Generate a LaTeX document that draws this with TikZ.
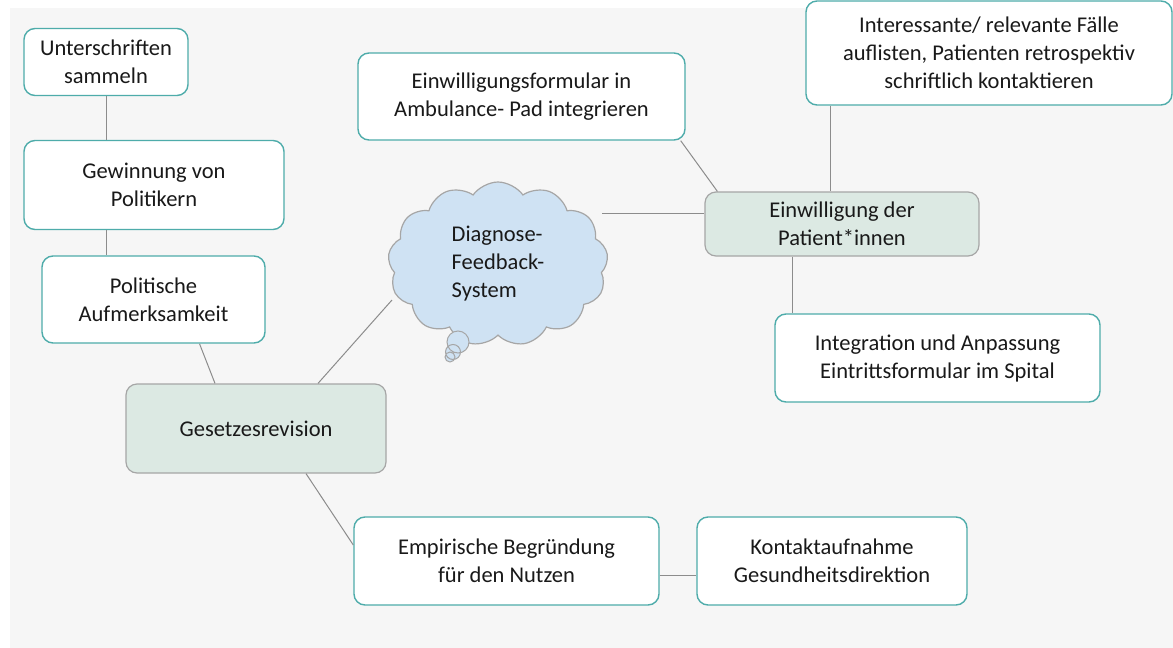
\documentclass[tikz,border=0pt]{standalone}
\usepackage{fontspec}
\setmainfont{Carlito}
\usetikzlibrary{positioning,shapes.symbols}
\definecolor{bggray}{RGB}{246,246,246}
\definecolor{tealline}{RGB}{78,172,170}
\definecolor{greenfill}{RGB}{220,233,227}
\definecolor{linegray}{RGB}{140,140,140}
\definecolor{cloudfill}{RGB}{207,226,243}

\begin{document}
\begin{tikzpicture}[x=1pt,y=-1pt,font=\fontsize{22.5}{28}\selectfont,text=black!90,
box/.style={draw=tealline,line width=1.4pt,rounded corners=11pt,fill=white,align=center,inner sep=0pt},
hub/.style={draw=black!35,line width=1.2pt,rounded corners=11pt,fill=greenfill,align=center,inner sep=0pt},
con/.style={draw=linegray,line width=1pt}]
\useasboundingbox (0,0) rectangle (1173,648);
\fill[bggray] (10,8) rectangle (1173,648);
% left column
\node[box,minimum width=164pt,minimum height=67pt] (unter) at (106,62) {Unterschriften\\sammeln};
\node[box,minimum width=260pt,minimum height=89pt] (gewinn) at (154,185) {Gewinnung von\\Politikern};
\node[box,minimum width=223pt,minimum height=87pt] (polit) at (153.5,299.5) {Politische\\Aufmerksamkeit};
\node[hub,minimum width=260pt,minimum height=89pt] (gesetz) at (256,428.5) {Gesetzesrevision};
% cloud in the middle
\node[cloud,cloud puffs=13,cloud puff arc=110,aspect=1.3,draw=black!35,line width=1.2pt,fill=cloudfill,
  minimum width=220pt,minimum height=164pt,align=left,inner sep=0pt] (cloud) at (498,264) {Diagnose-\\Feedback-\\System};
\draw[draw=black!35,line width=1pt,fill=cloudfill] (458,342) circle (11pt) (453,352) circle (7.5pt) (450,357) circle (5pt);
% right side
\node[box,minimum width=327pt,minimum height=87pt] (form) at (521.5,96.5) {Einwilligungsformular in\\Ambulance- Pad integrieren};
\node[box,minimum width=366pt,minimum height=104pt] (inter) at (989,53) {Interessante/ relevante F\"alle\\auflisten, Patienten retrospektiv\\schriftlich kontaktieren};
\node[hub,minimum width=274pt,minimum height=64pt] (einw) at (842,224) {Einwilligung der\\Patient*innen};
\node[box,minimum width=325pt,minimum height=88pt] (integ) at (937.5,358) {Integration und Anpassung\\Eintrittsformular im Spital};
% bottom row
\node[box,minimum width=305pt,minimum height=88pt] (empir) at (506.5,561) {Empirische Begr\"undung\\f\"ur den Nutzen};
\node[box,minimum width=270pt,minimum height=88pt] (kontakt) at (832,561) {Kontaktaufnahme\\Gesundheitsdirektion};
% connectors
\draw[con] (unter.south) -- ([xshift=-48pt]gewinn.north);
\draw[con] ([xshift=-48pt]gewinn.south) -- ([xshift=-47.5pt]polit.north);
\draw[con] ([xshift=46pt]polit.south) -- ([xshift=-41pt]gesetz.north);
\draw[con] ([xshift=62pt]gesetz.north) -- ([xshift=-106pt,yshift=-36pt]cloud.center);
\draw[con] ([xshift=50pt]gesetz.south) -- ([yshift=16pt]empir.west);
\draw[con] ([yshift=-14pt]empir.east) -- ([yshift=-14pt]kontakt.west);
\draw[con] ([xshift=104pt,yshift=51pt]cloud.center) -- ([yshift=11pt]einw.west);
\draw[con] ([xshift=-5pt]form.south east) -- ([xshift=13pt]einw.north west);
\draw[con] ([xshift=-159pt]inter.south) -- ([xshift=-12pt]einw.north);
\draw[con] ([xshift=-50pt]einw.south) -- ([xshift=-145.5pt]integ.north);
\end{tikzpicture}
\end{document}
